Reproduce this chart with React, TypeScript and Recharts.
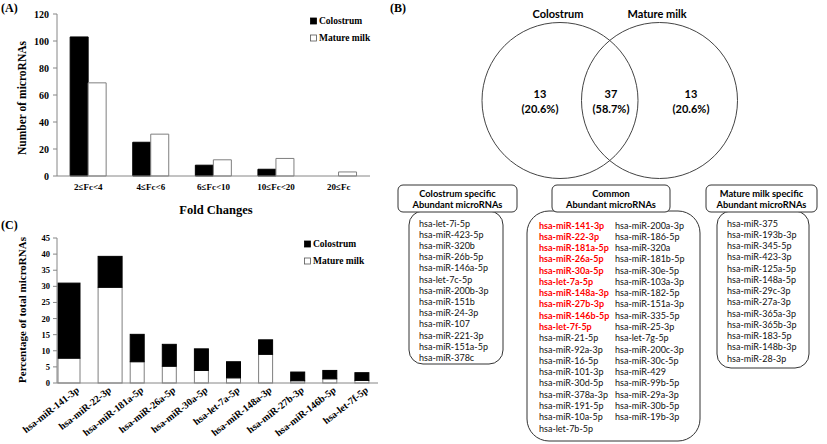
import React from 'react';
import { BarChart, Bar, XAxis, YAxis } from 'recharts';

// ---------- Panel A data ----------
const foldCategories = ['2≤Fc<4', '4≤Fc<6', '6≤Fc<10', '10≤Fc<20', '20≤Fc'];
const colostrumCounts = [103, 25, 8, 5, 0];
const matureCounts = [69, 31, 12, 13, 3];
const countTicks = [0, 20, 40, 60, 80, 100, 120];

// ---------- Panel C data ----------
const topMirnas = [
  'hsa-miR-141-3p', 'hsa-miR-22-3p', 'hsa-miR-181a-5p', 'hsa-miR-26a-5p', 'hsa-miR-30a-5p',
  'hsa-let-7a-5p', 'hsa-miR-148a-3p', 'hsa-miR-27b-3p', 'hsa-miR-146b-5p', 'hsa-let-7f-5p',
];
const matureShare = [7.7, 29.7, 6.6, 5.2, 3.9, 1.6, 8.9, 0.7, 1.3, 0.8];
const colostrumShare = [23.3, 9.6, 8.5, 6.8, 6.7, 5.0, 4.5, 2.7, 2.6, 2.4];
const shareTicks = [0, 5, 10, 15, 20, 25, 30, 35, 40, 45];

const seriesNames = ['Colostrum', 'Mature milk'];

// ---------- Panel B data ----------
const vennSets = ['Colostrum', 'Mature milk'];
const vennCounts = [13, 37, 13];
const vennPercents = ['20.6%', '58.7%', '20.6%'];
const listTitles = [
  ['Colostrum specific', 'Abundant microRNAs'],
  ['Common', 'Abundant microRNAs'],
  ['Mature milk specific', 'Abundant microRNAs'],
];
const colostrumSpecific = [
  'hsa-let-7i-5p', 'hsa-miR-423-5p', 'hsa-miR-320b', 'hsa-miR-26b-5p', 'hsa-miR-146a-5p',
  'hsa-let-7c-5p', 'hsa-miR-200b-3p', 'hsa-miR-151b', 'hsa-miR-24-3p', 'hsa-miR-107',
  'hsa-miR-221-3p', 'hsa-miR-151a-5p', 'hsa-miR-378c',
];
const commonOther = [
  'hsa-miR-21-5p', 'hsa-miR-92a-3p', 'hsa-miR-16-5p', 'hsa-miR-101-3p', 'hsa-miR-30d-5p',
  'hsa-miR-378a-3p', 'hsa-miR-191-5p', 'hsa-miR-10a-5p', 'hsa-let-7b-5p',
  'hsa-miR-200a-3p', 'hsa-miR-186-5p', 'hsa-miR-320a', 'hsa-miR-181b-5p', 'hsa-miR-30e-5p',
  'hsa-miR-103a-3p', 'hsa-miR-182-5p', 'hsa-miR-151a-3p', 'hsa-miR-335-5p', 'hsa-miR-25-3p',
  'hsa-let-7g-5p', 'hsa-miR-200c-3p', 'hsa-miR-30c-5p', 'hsa-miR-429', 'hsa-miR-99b-5p',
  'hsa-miR-29a-3p', 'hsa-miR-30b-5p', 'hsa-miR-19b-3p',
];
const matureSpecific = [
  'hsa-miR-375', 'hsa-miR-193b-3p', 'hsa-miR-345-5p', 'hsa-miR-423-3p', 'hsa-miR-125a-5p',
  'hsa-miR-148a-5p', 'hsa-miR-29c-3p', 'hsa-miR-27a-3p', 'hsa-miR-365a-3p', 'hsa-miR-365b-3p',
  'hsa-miR-183-5p', 'hsa-miR-148b-3p', 'hsa-miR-28-3p',
];

const foldData = foldCategories.map((c, i) => ({ cat: c, colostrum: colostrumCounts[i], mature: matureCounts[i] }));
const shareData = topMirnas.map((m, i) => ({ name: m, mature: matureShare[i], colostrum: colostrumShare[i] }));

const SERIF = '"Liberation Serif", "Times New Roman", serif';
const SANS = 'Lato, "Noto Sans", sans-serif';
const AXIS = '#868686';

const LegendBlock = ({ x, y, gap }: any) => (
  <g>
    {seriesNames.map((name, i) => {
      const cy = y + i * gap;
      const isCol = i === 0;
      return (
        <g key={name}>
          <rect x={x + 0.5} y={cy - 3} width={6} height={6}
            fill={isCol ? '#000' : '#fff'} stroke={isCol ? '#000' : '#555'} strokeWidth={0.8} />
          <text x={x + 9} y={cy + 3.3} fontFamily={SERIF} fontWeight="bold" fontSize={9.5} fill="#000">
            {name}
          </text>
        </g>
      );
    })}
  </g>
);

const RotTick = (props: any) => {
  const { x, y, payload } = props;
  return (
    <g transform={`translate(${x + 5},${y})`}>
      <text x={0} y={0} dy={3} textAnchor="end" transform="rotate(-38)" fontFamily={SERIF}
        fontWeight="bold" fontSize={10} fill="#000">
        {payload.value}
      </text>
    </g>
  );
};

const ShareBar = (props: any) => {
  const { x, y, width, height, index, fill, stroke } = props;
  if (!height || height <= 0) return null;
  let nx = x;
  let nw = width;
  if (index === 0) { nx = x - 8; nw = width + 8; }
  if (index === 1) { nw = width + 10; }
  return <rect x={nx} y={y} width={nw} height={height} fill={fill} stroke={stroke} strokeWidth={1} />;
};

const ListBox = ({ x, y, w, h, r }: any) => (
  <rect x={x} y={y} width={w} height={h} rx={r} ry={r} fill="#fff" stroke="#333" strokeWidth={1} />
);

const HeaderBox = ({ x, y, w, h, lines }: any) => (
  <g>
    <rect x={x} y={y} width={w} height={h} rx={5} ry={5} fill="#fff" stroke="#333" strokeWidth={1} />
    {lines.map((t: string, i: number) => (
      <text key={i} x={x + w / 2} y={y + 8.5 + i * 11} textAnchor="middle" dominantBaseline="central"
        fontFamily={SANS} fontWeight="bold" fontSize={9.3} fill="#000">{t}</text>
    ))}
  </g>
);

const ItemList = ({ x, y0, gap, items, red }: any) => (
  <g>
    {items.map((t: string, i: number) => (
      <text key={t} x={x} y={y0 + i * gap} dominantBaseline="central" fontFamily={SANS}
        fontWeight={red ? 'bold' : 'normal'} fontSize={9} fill={red ? '#ff0000' : '#111'}>{t}</text>
    ))}
  </g>
);

export default function App() {
  const lineGap = 11.28;
  return (
    <div style={{ position: 'absolute', left: 0, top: 0, width: 827, height: 444, background: '#fff', overflow: 'hidden' }}>
      {/* Panel A */}
      <div style={{ position: 'absolute', left: 0, top: 0 }}>
        <BarChart width={420} height={220} data={foldData} margin={{ top: 14, right: 50, bottom: 0, left: 0 }}
          barCategoryGap="21%" barGap={0}>
          <YAxis width={57} domain={[0, 120]} ticks={countTicks} interval={0} tickSize={4} tickMargin={4}
            axisLine={{ stroke: AXIS }} tickLine={{ stroke: AXIS }}
            tick={{ fontFamily: SERIF, fontWeight: 'bold', fontSize: 10, fill: '#000' }} />
          <XAxis dataKey="cat" height={44} tickSize={4} tickMargin={4} tickLine={false} interval={0}
            axisLine={{ stroke: AXIS }}
            tick={{ fontFamily: SERIF, fontWeight: 'bold', fontSize: 9, fill: '#000' }} />
          <Bar dataKey="colostrum" name={seriesNames[0]} fill="#000" stroke="#000" isAnimationActive={false} />
          <Bar dataKey="mature" name={seriesNames[1]} fill="#fff" stroke="#7f7f7f" isAnimationActive={false} />
        </BarChart>
      </div>

      {/* Panel C */}
      <div style={{ position: 'absolute', left: 0, top: 220 }}>
        <BarChart width={420} height={224} data={shareData} margin={{ top: 18, right: 42, bottom: 0, left: 0 }}
          barSize={14}>
          <YAxis width={57} domain={[0, 45]} ticks={shareTicks} interval={0} tickSize={4} tickMargin={3}
            axisLine={{ stroke: AXIS }} tickLine={{ stroke: AXIS }}
            tick={{ fontFamily: SERIF, fontWeight: 'bold', fontSize: 8.5, fill: '#000' }} />
          <XAxis dataKey="name" height={61} tickSize={4} tickLine={false} interval={0}
            axisLine={{ stroke: AXIS }} tick={<RotTick />} />
          <Bar dataKey="mature" stackId="s" name={seriesNames[1]} fill="#fff" stroke="#7f7f7f"
            shape={<ShareBar />} isAnimationActive={false} />
          <Bar dataKey="colostrum" stackId="s" name={seriesNames[0]} fill="#000" stroke="#000"
            shape={<ShareBar />} isAnimationActive={false} />
        </BarChart>
      </div>

      {/* Titles, legends and panel B */}
      <svg width={827} height={444} style={{ position: 'absolute', left: 0, top: 0, pointerEvents: 'none' }}>
        <text x={1} y={12} fontFamily={SERIF} fontWeight="bold" fontSize={12}>(A)</text>
        <text x={390} y={12} fontFamily={SERIF} fontWeight="bold" fontSize={12}>(B)</text>
        <text x={1} y={229} fontFamily={SERIF} fontWeight="bold" fontSize={12}>(C)</text>

        <LegendBlock x={310} y={21} gap={17} />
        <LegendBlock x={304} y={244} gap={17} />

        <text x={216} y={214} textAnchor="middle" fontFamily={SERIF} fontWeight="bold" fontSize={12.5}>Fold Changes</text>
        <text transform="translate(26,98) rotate(-90)" textAnchor="middle" fontFamily={SERIF} fontWeight="bold" fontSize={11.5}>Number of microRNAs</text>
        <text transform="translate(26,310) rotate(-90)" textAnchor="middle" fontFamily={SERIF} fontWeight="bold" fontSize={11}>Percentage of total microRNAs</text>

        {/* Venn */}
        <circle cx={560} cy={100.5} r={78} fill="none" stroke="#444" strokeWidth={1} />
        <circle cx={659.5} cy={100.5} r={78} fill="none" stroke="#444" strokeWidth={1} />
        <text x={558} y={13} textAnchor="middle" dominantBaseline="central" fontFamily={SANS} fontWeight="bold" fontSize={11}>{vennSets[0]}</text>
        <text x={657} y={13} textAnchor="middle" dominantBaseline="central" fontFamily={SANS} fontWeight="bold" fontSize={11}>{vennSets[1]}</text>
        {[540, 611, 691].map((cx, i) => (
          <g key={i}>
            <text x={cx} y={93} textAnchor="middle" dominantBaseline="central" fontFamily={SANS} fontWeight="bold" fontSize={11}>{vennCounts[i]}</text>
            <text x={cx} y={108} textAnchor="middle" dominantBaseline="central" fontFamily={SANS} fontWeight="bold" fontSize={11}>({vennPercents[i]})</text>
          </g>
        ))}

        {/* list boxes */}
        <ListBox x={409} y={211} w={94} h={153} r={14} />
        <ListBox x={527} y={211} w={173} h={230} r={22} />
        <ListBox x={717} y={211} w={92} h={157} r={14} />

        <HeaderBox x={398} y={185} w={119} h={27} lines={listTitles[0]} />
        <HeaderBox x={552} y={185} w={118} h={27} lines={listTitles[1]} />
        <HeaderBox x={706} y={185} w={111} h={27} lines={listTitles[2]} />

        <ItemList x={419} y0={223} gap={11.2} items={colostrumSpecific} />
        <ItemList x={539} y0={225} gap={lineGap} items={topMirnas} red />
        <ItemList x={539} y0={225 + topMirnas.length * lineGap} gap={lineGap} items={commonOther.slice(0, 9)} />
        <ItemList x={615} y0={225} gap={lineGap} items={commonOther.slice(9)} />
        <ItemList x={727} y0={223} gap={11.25} items={matureSpecific} />
      </svg>
    </div>
  );
}
